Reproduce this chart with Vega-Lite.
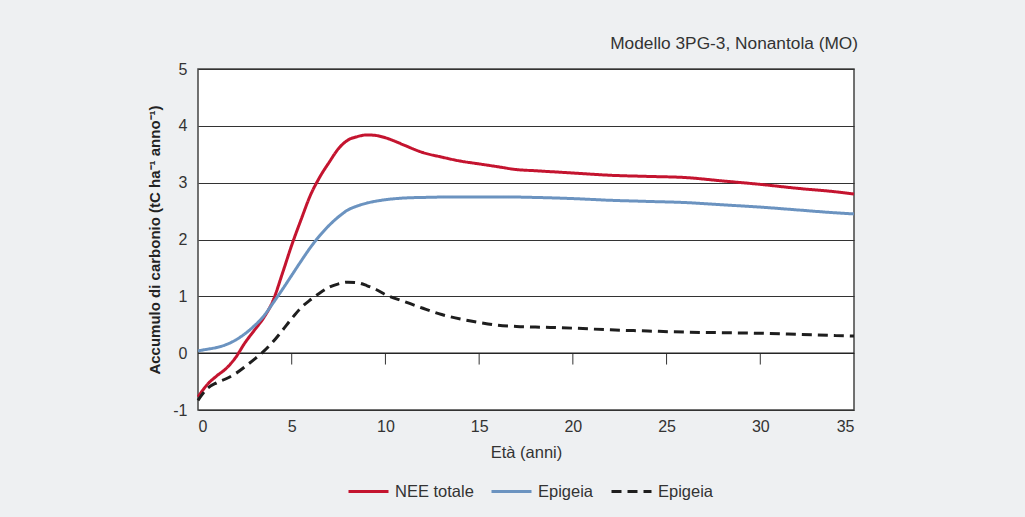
{
  "$schema": "https://vega.github.io/schema/vega-lite/v6.json",
  "autosize": {"type": "none"},
  "width": 656,
  "height": 341,
  "padding": {"left": 198, "top": 69, "right": 171, "bottom": 107},
  "background": "#eef0f2",
  "title": {"text": "Modello 3PG-3, Nonantola (MO)", "anchor": "end", "fontSize": 17.3, "fontWeight": "normal", "color": "#333333", "font": "Liberation Sans", "offset": 9, "dx": -2},
  "config": {
    "font": "Liberation Sans",
    "view": {"stroke": "#444444", "strokeWidth": 1.5, "fill": "white"}
  },
  "datasets": {
    "curves": [
      {"t": 0, "s": "NEE totale", "v": -0.77}, {"t": 0.5, "s": "NEE totale", "v": -0.55}, {"t": 1, "s": "NEE totale", "v": -0.4}, {"t": 1.5, "s": "NEE totale", "v": -0.27}, {"t": 2, "s": "NEE totale", "v": -0.08}, {"t": 2.5, "s": "NEE totale", "v": 0.18}, {"t": 3, "s": "NEE totale", "v": 0.4}, {"t": 3.5, "s": "NEE totale", "v": 0.62}, {"t": 4, "s": "NEE totale", "v": 0.92}, {"t": 4.5, "s": "NEE totale", "v": 1.4}, {"t": 5, "s": "NEE totale", "v": 1.9}, {"t": 5.5, "s": "NEE totale", "v": 2.35}, {"t": 6, "s": "NEE totale", "v": 2.78}, {"t": 6.5, "s": "NEE totale", "v": 3.1}, {"t": 7, "s": "NEE totale", "v": 3.36}, {"t": 7.5, "s": "NEE totale", "v": 3.6}, {"t": 8, "s": "NEE totale", "v": 3.75}, {"t": 8.5, "s": "NEE totale", "v": 3.81}, {"t": 9, "s": "NEE totale", "v": 3.84}, {"t": 9.5, "s": "NEE totale", "v": 3.83}, {"t": 10, "s": "NEE totale", "v": 3.79}, {"t": 10.5, "s": "NEE totale", "v": 3.73}, {"t": 11, "s": "NEE totale", "v": 3.66}, {"t": 12, "s": "NEE totale", "v": 3.53}, {"t": 13, "s": "NEE totale", "v": 3.45}, {"t": 14, "s": "NEE totale", "v": 3.38}, {"t": 15, "s": "NEE totale", "v": 3.33}, {"t": 16, "s": "NEE totale", "v": 3.28}, {"t": 17, "s": "NEE totale", "v": 3.23}, {"t": 18, "s": "NEE totale", "v": 3.21}, {"t": 20, "s": "NEE totale", "v": 3.17}, {"t": 22, "s": "NEE totale", "v": 3.13}, {"t": 24, "s": "NEE totale", "v": 3.11}, {"t": 26, "s": "NEE totale", "v": 3.09}, {"t": 28, "s": "NEE totale", "v": 3.03}, {"t": 30, "s": "NEE totale", "v": 2.97}, {"t": 32, "s": "NEE totale", "v": 2.9}, {"t": 34, "s": "NEE totale", "v": 2.84}, {"t": 35, "s": "NEE totale", "v": 2.8},
      {"t": 0, "s": "Epigeia", "v": 0.04}, {"t": 0.5, "s": "Epigeia", "v": 0.07}, {"t": 1, "s": "Epigeia", "v": 0.1}, {"t": 1.5, "s": "Epigeia", "v": 0.15}, {"t": 2, "s": "Epigeia", "v": 0.23}, {"t": 2.5, "s": "Epigeia", "v": 0.34}, {"t": 3, "s": "Epigeia", "v": 0.48}, {"t": 3.5, "s": "Epigeia", "v": 0.65}, {"t": 4, "s": "Epigeia", "v": 0.88}, {"t": 4.5, "s": "Epigeia", "v": 1.12}, {"t": 5, "s": "Epigeia", "v": 1.37}, {"t": 5.5, "s": "Epigeia", "v": 1.62}, {"t": 6, "s": "Epigeia", "v": 1.86}, {"t": 6.5, "s": "Epigeia", "v": 2.07}, {"t": 7, "s": "Epigeia", "v": 2.25}, {"t": 7.5, "s": "Epigeia", "v": 2.4}, {"t": 8, "s": "Epigeia", "v": 2.52}, {"t": 8.5, "s": "Epigeia", "v": 2.59}, {"t": 9, "s": "Epigeia", "v": 2.64}, {"t": 10, "s": "Epigeia", "v": 2.7}, {"t": 11, "s": "Epigeia", "v": 2.73}, {"t": 12, "s": "Epigeia", "v": 2.74}, {"t": 14, "s": "Epigeia", "v": 2.75}, {"t": 16, "s": "Epigeia", "v": 2.75}, {"t": 18, "s": "Epigeia", "v": 2.74}, {"t": 20, "s": "Epigeia", "v": 2.72}, {"t": 22, "s": "Epigeia", "v": 2.69}, {"t": 24, "s": "Epigeia", "v": 2.67}, {"t": 26, "s": "Epigeia", "v": 2.65}, {"t": 28, "s": "Epigeia", "v": 2.61}, {"t": 30, "s": "Epigeia", "v": 2.57}, {"t": 32, "s": "Epigeia", "v": 2.52}, {"t": 34, "s": "Epigeia", "v": 2.47}, {"t": 35, "s": "Epigeia", "v": 2.45},
      {"t": 0, "s": "Epigeia 2", "v": -0.83}, {"t": 0.5, "s": "Epigeia 2", "v": -0.62}, {"t": 1, "s": "Epigeia 2", "v": -0.52}, {"t": 1.5, "s": "Epigeia 2", "v": -0.45}, {"t": 2, "s": "Epigeia 2", "v": -0.36}, {"t": 2.5, "s": "Epigeia 2", "v": -0.24}, {"t": 3, "s": "Epigeia 2", "v": -0.11}, {"t": 3.5, "s": "Epigeia 2", "v": 0.03}, {"t": 4, "s": "Epigeia 2", "v": 0.2}, {"t": 4.5, "s": "Epigeia 2", "v": 0.4}, {"t": 5, "s": "Epigeia 2", "v": 0.61}, {"t": 5.5, "s": "Epigeia 2", "v": 0.8}, {"t": 6, "s": "Epigeia 2", "v": 0.94}, {"t": 6.5, "s": "Epigeia 2", "v": 1.06}, {"t": 7, "s": "Epigeia 2", "v": 1.16}, {"t": 7.5, "s": "Epigeia 2", "v": 1.22}, {"t": 8, "s": "Epigeia 2", "v": 1.25}, {"t": 8.5, "s": "Epigeia 2", "v": 1.24}, {"t": 9, "s": "Epigeia 2", "v": 1.19}, {"t": 9.5, "s": "Epigeia 2", "v": 1.12}, {"t": 10, "s": "Epigeia 2", "v": 1.03}, {"t": 11, "s": "Epigeia 2", "v": 0.91}, {"t": 12, "s": "Epigeia 2", "v": 0.79}, {"t": 13, "s": "Epigeia 2", "v": 0.68}, {"t": 14, "s": "Epigeia 2", "v": 0.6}, {"t": 15, "s": "Epigeia 2", "v": 0.54}, {"t": 16, "s": "Epigeia 2", "v": 0.49}, {"t": 17, "s": "Epigeia 2", "v": 0.47}, {"t": 18, "s": "Epigeia 2", "v": 0.46}, {"t": 20, "s": "Epigeia 2", "v": 0.44}, {"t": 22, "s": "Epigeia 2", "v": 0.41}, {"t": 24, "s": "Epigeia 2", "v": 0.39}, {"t": 26, "s": "Epigeia 2", "v": 0.37}, {"t": 28, "s": "Epigeia 2", "v": 0.36}, {"t": 30, "s": "Epigeia 2", "v": 0.35}, {"t": 32, "s": "Epigeia 2", "v": 0.33}, {"t": 34, "s": "Epigeia 2", "v": 0.31}, {"t": 35, "s": "Epigeia 2", "v": 0.3}
    ],
    "ticks": [{"t": 5}, {"t": 10}, {"t": 15}, {"t": 20}, {"t": 25}, {"t": 30}]
  },
  "layer": [
    {
      "data": {"name": "ticks"},
      "mark": {"type": "rule", "color": "#333333", "strokeWidth": 1},
      "encoding": {
        "x": {"field": "t", "type": "quantitative", "scale": {"domain": [0, 35], "nice": false}},
        "y": {"datum": 0, "type": "quantitative"},
        "y2": {"datum": -0.2}
      }
    },
    {
      "data": {"values": [{"z": 0}]},
      "mark": {"type": "rule", "color": "#222222", "strokeWidth": 1.2},
      "encoding": {"y": {"field": "z", "type": "quantitative"}}
    },
    {
      "data": {"name": "curves"},
      "mark": {"type": "line", "interpolate": "monotone", "strokeWidth": 3},
      "encoding": {
        "x": {
          "field": "t", "type": "quantitative",
          "scale": {"domain": [0, 35], "nice": false},
          "axis": {"values": [0, 5, 10, 15, 20, 25, 30, 35], "grid": false, "ticks": false, "domain": false, "labelFontSize": 16, "labelColor": "#333333", "labelPadding": 8, "title": "Età (anni)", "titleFontSize": 16.5, "titleFontWeight": "normal", "titleColor": "#333333", "titlePadding": 10}
        },
        "y": {
          "field": "v", "type": "quantitative",
          "scale": {"domain": [-1, 5], "nice": false},
          "axis": {"values": [-1, 0, 1, 2, 3, 4, 5], "labelExpr": "'' + datum.value", "grid": true, "gridColor": "#333333", "gridWidth": 1, "gridOpacity": 1, "ticks": false, "domain": false, "labelFontSize": 16, "labelColor": "#333333", "labelPadding": 11, "title": "Accumulo di carbonio (tC ha⁻¹ anno⁻¹)", "titleFontSize": 15, "titleFontWeight": "bold", "titleColor": "#222222", "titlePadding": 10}
        },
        "color": {
          "field": "s", "type": "nominal",
          "scale": {"domain": ["NEE totale", "Epigeia", "Epigeia 2"], "range": ["#c4142f", "#6b93c0", "#1e1e1e"]},
          "legend": {
            "title": null, "orient": "none", "direction": "horizontal", "legendX": 149, "legendY": 401,
            "symbolType": "stroke", "symbolSize": 1600, "symbolStrokeWidth": 3,
            "labelFontSize": 16.5, "labelColor": "#333333", "labelOffset": 5, "columnPadding": 11,
            "labelExpr": "datum.label == 'Epigeia 2' ? 'Epigeia' : datum.label"
          }
        },
        "strokeDash": {
          "field": "s", "type": "nominal",
          "scale": {"domain": ["NEE totale", "Epigeia", "Epigeia 2"], "range": [[1, 0], [1, 0], [10, 6]]},
          "legend": null
        }
      }
    }
  ]
}
